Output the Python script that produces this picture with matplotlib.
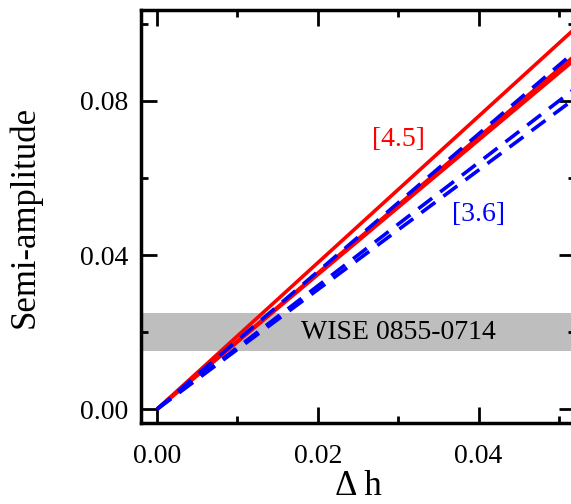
import matplotlib
matplotlib.use("Agg")
import matplotlib.pyplot as plt
from matplotlib.ticker import MultipleLocator

plt.rcParams['font.family'] = ['Liberation Serif', 'DejaVu Serif']

# amplitude vs delta h, straight lines from the origin (end points)
dh = [0.0, 0.055]
red_45 = [[0.0, 0.1045], [0.0, 0.0971], [0.0, 0.0960]]
blue_36 = [[0.0, 0.0982], [0.0, 0.0880], [0.0, 0.0853]]

# observed range for WISE 0855-0714
wise_lo, wise_hi = 0.015, 0.025

fig = plt.figure(figsize=(5.71, 5.04), dpi=100)
ax = fig.add_axes([141 / 571, 1 - 423 / 504, 434 / 571, 413 / 504])

ax.axhspan(wise_lo, wise_hi, color='#bebebe', lw=0, zorder=0)
for y in red_45:
    ax.plot(dh, y, color='red', lw=2.6, solid_capstyle='butt', zorder=2)
for y in blue_36:
    ax.plot(dh, y, color='blue', lw=2.6, dashes=(4.8, 2.8), zorder=3)

ax.text(0.030, 0.020, 'WISE 0855-0714', fontsize=20, ha='center', va='center', zorder=4)
ax.text(0.030, 0.0699, '[4.5]', fontsize=20, color='red', ha='center', va='center')
ax.text(0.040, 0.0504, '[3.6]', fontsize=20, color='blue', ha='center', va='center')

ax.set_xlim(-0.002, 0.052)
ax.set_ylim(-0.0036, 0.1036)
ax.xaxis.set_major_locator(MultipleLocator(0.02))
ax.xaxis.set_minor_locator(MultipleLocator(0.01))
ax.yaxis.set_major_locator(MultipleLocator(0.04))
ax.yaxis.set_minor_locator(MultipleLocator(0.02))
ax.xaxis.set_major_formatter(lambda v, p: '%.2f' % v)
ax.yaxis.set_major_formatter(lambda v, p: '%.2f' % v)

ax.tick_params(which='both', direction='in', top=True, right=True, width=2, labelsize=20)
ax.tick_params(which='major', length=11.5, pad=9)
ax.tick_params(axis='x', which='major', pad=15)
ax.tick_params(which='minor', length=5)
for s in ax.spines.values():
    s.set_linewidth(2.5)

ax.set_xlabel('Δ h', fontsize=25, labelpad=1)
ax.set_ylabel('Semi-amplitude', fontsize=25, labelpad=28)

fig.savefig('out.png', dpi=100)
